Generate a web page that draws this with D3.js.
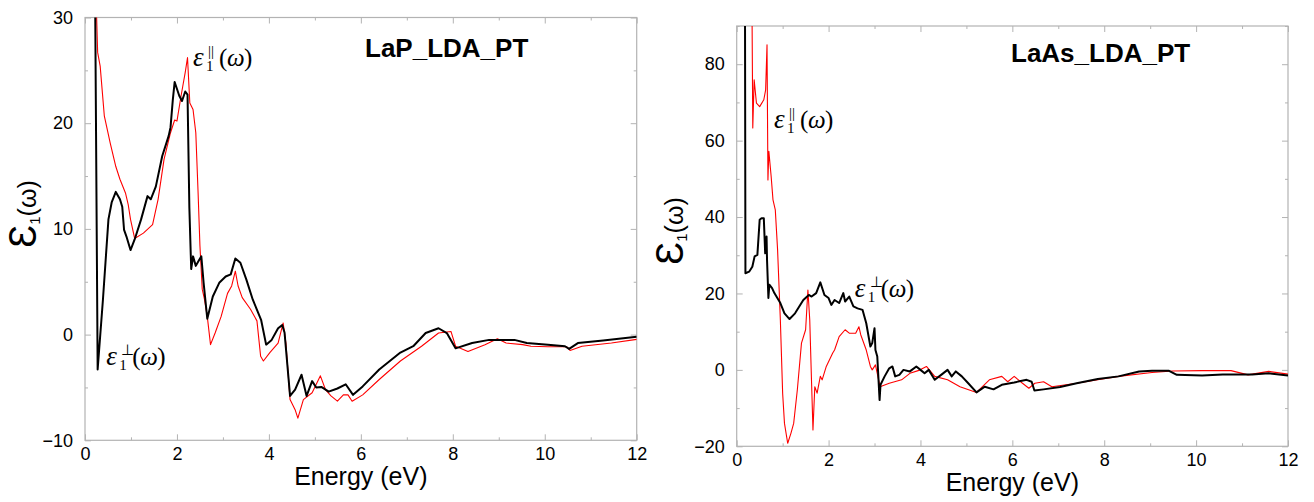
<!DOCTYPE html>
<html>
<head>
<meta charset="utf-8">
<script src="https://cdn.jsdelivr.net/npm/d3@7"></script>
<style>
  html, body { margin: 0; padding: 0; background: #fff; }
  svg { display: block; }
</style>
</head>
<body>
<svg id="chart" width="1314" height="502"></svg>
<script>
// ---------------- DATA ----------------
const panelTitles = ["LaP_LDA_PT", "LaAs_LDA_PT"];
const xTickValues = [0, 2, 4, 6, 8, 10, 12];
const lapYTicks = [-10, 0, 10, 20, 30];
const laasYTicks = [-20, 0, 20, 40, 60, 80];
const xLabel = "Energy (eV)";

// LaP, eps1 perpendicular (black)
const lapPerp = [
  [0.20, 45], [0.275, -3.3], [0.39, 3.3], [0.51, 10.9], [0.58, 12.5], [0.67, 13.5], [0.76, 12.8],
  [0.81, 12.1], [0.85, 9.9], [0.90, 9.3], [0.99, 8.0], [1.08, 9.0], [1.22, 10.9], [1.36, 13.1],
  [1.43, 12.8], [1.54, 14.0], [1.68, 16.9], [1.82, 18.8], [1.86, 19.6], [1.91, 22.2], [1.95, 23.9],
  [2.05, 22.6], [2.11, 22.1], [2.18, 23.0], [2.23, 22.7], [2.27, 12.0], [2.31, 6.2], [2.35, 7.4],
  [2.41, 6.5], [2.46, 6.9], [2.53, 7.4], [2.58, 4.9], [2.66, 1.5], [2.78, 3.6], [2.92, 4.9],
  [3.06, 5.5], [3.17, 5.7], [3.27, 7.2], [3.38, 6.8], [3.51, 5.2], [3.65, 3.3], [3.83, 1.4],
  [3.94, -0.95], [4.06, -0.5], [4.20, 0.6], [4.29, 0.9], [4.34, 0.2], [4.46, -5.8], [4.57, -5.2],
  [4.71, -3.8], [4.82, -5.8], [4.94, -4.4], [5.03, -5.0], [5.14, -4.95], [5.30, -5.4], [5.49, -5.1],
  [5.67, -4.7], [5.83, -5.7], [6.04, -4.9], [6.40, -3.3], [6.86, -1.7], [7.14, -1.1], [7.41, 0.15],
  [7.69, 0.6], [7.87, 0.15], [8.06, -1.3], [8.42, -0.8], [8.79, -0.5], [9.34, -0.5], [9.61, -0.8],
  [10.07, -0.95], [10.44, -1.1], [10.53, -1.35], [10.72, -0.8], [11.27, -0.55], [12.0, -0.2]
];
// LaP, eps1 parallel (red)
const lapPara = [
  [0.24, 32], [0.275, 26.7], [0.33, 25.4], [0.42, 20.7], [0.55, 18.1], [0.67, 15.9], [0.76, 14.7],
  [0.88, 13.4], [0.94, 12.3], [0.99, 10.9], [1.08, 9.1], [1.27, 9.6], [1.47, 10.4], [1.59, 12.8],
  [1.72, 16.6], [1.86, 19.1], [1.95, 20.3], [2.00, 20.2], [2.09, 22.6], [2.18, 24.8], [2.23, 26.2],
  [2.28, 21.9], [2.35, 21.3], [2.41, 19.1], [2.46, 13.4], [2.50, 8.4], [2.55, 4.3], [2.60, 3.3],
  [2.66, 1.7], [2.73, -0.95], [2.83, 0.15], [2.96, 1.7], [3.10, 3.9], [3.19, 4.6], [3.27, 6.0],
  [3.33, 4.6], [3.42, 3.5], [3.60, 2.4], [3.74, 1.3], [3.82, -2.05], [3.88, -2.5], [4.02, -1.7],
  [4.20, -0.8], [4.31, 1.1], [4.37, -0.8], [4.46, -6.15], [4.57, -7.1], [4.63, -7.9], [4.75, -6.15],
  [4.94, -5.5], [5.12, -3.9], [5.23, -5.2], [5.35, -5.8], [5.49, -6.3], [5.62, -5.7], [5.72, -5.7],
  [5.81, -6.3], [6.04, -5.7], [6.40, -4.25], [6.86, -2.5], [7.32, -1.1], [7.69, 0.15], [7.96, 0.3],
  [8.06, -1.1], [8.33, -1.6], [8.70, -0.95], [8.97, -0.4], [9.16, -0.8], [9.52, -0.95], [9.70, -1.1],
  [10.07, -1.15], [10.48, -1.15], [10.55, -1.5], [10.81, -1.1], [11.45, -0.8], [12.0, -0.45]
];
// LaAs, eps1 perpendicular (black)
const laasPerp = [
  [0.18, 100], [0.19, 25.3], [0.27, 25.7], [0.34, 27.0], [0.39, 29.7], [0.45, 30.1], [0.50, 39.3],
  [0.54, 39.7], [0.59, 39.7], [0.62, 30.5], [0.64, 31.4], [0.65, 34.9], [0.66, 28.8], [0.69, 18.8],
  [0.71, 22.3], [0.77, 21.4], [0.82, 20.1], [0.95, 17.5], [1.04, 14.8], [1.15, 13.3], [1.27, 14.8],
  [1.45, 18.3], [1.57, 19.6], [1.63, 19.2], [1.73, 20.1], [1.82, 22.9], [1.91, 19.6], [2.00, 18.8],
  [2.06, 17.0], [2.13, 18.3], [2.23, 17.5], [2.32, 20.1], [2.36, 17.9], [2.45, 19.2], [2.54, 16.6],
  [2.63, 16.1], [2.74, 15.7], [2.82, 12.2], [2.91, 6.1], [2.95, 7.0], [3.00, 10.9], [3.02, 5.2],
  [3.06, 3.5], [3.11, -7.9], [3.13, -3.9], [3.22, -1.7], [3.32, 0.4], [3.39, 0.9], [3.45, -1.7],
  [3.54, -1.3], [3.63, 0.0], [3.77, -0.4], [3.91, 0.9], [4.00, 0.0], [4.09, -0.9], [4.18, 0.0],
  [4.31, -2.6], [4.45, -1.3], [4.59, 0.0], [4.68, -1.7], [4.77, -0.4], [4.90, -1.7], [5.04, -3.5],
  [5.22, -5.9], [5.40, -4.4], [5.59, -5.1], [5.77, -3.9], [6.04, -3.3], [6.31, -2.6], [6.42, -3.1],
  [6.48, -5.4], [6.68, -5.1], [7.04, -4.5], [7.40, -3.5], [7.86, -2.4], [8.31, -1.7], [8.76, -0.4],
  [9.04, -0.2], [9.40, -0.2], [9.58, -1.3], [10.13, -1.5], [10.58, -1.2], [11.22, -1.2],
  [11.58, -0.9], [12.0, -1.5]
];
// LaAs, eps1 parallel (red)
const laasPara = [
  [0.33, 100], [0.35, 63.3], [0.38, 75.9], [0.43, 69.8], [0.50, 68.9], [0.59, 70.7], [0.63, 73.3],
  [0.66, 85.1], [0.68, 49.7], [0.70, 57.2], [0.75, 50.6], [0.79, 44.5], [0.84, 41.9], [0.89, 31.4],
  [0.95, 13.1], [1.00, -6.1], [1.04, -14.0], [1.11, -19.2], [1.18, -16.6], [1.24, -14.0], [1.32, -5.2],
  [1.41, 7.0], [1.50, 10.5], [1.55, 20.9], [1.59, 13.1], [1.63, -3.5], [1.66, -15.7], [1.70, -4.4],
  [1.75, -6.1], [1.82, -1.7], [1.86, -2.6], [1.95, 0.9], [2.09, 4.4], [2.13, 5.2], [2.23, 8.7],
  [2.36, 10.5], [2.45, 9.6], [2.59, 9.6], [2.66, 11.3], [2.70, 9.2], [2.82, 5.2], [2.91, 0.9],
  [2.95, 0.0], [3.02, 1.3], [3.12, -4.4], [3.32, -3.5], [3.59, -2.6], [3.77, -0.9], [3.95, -0.2],
  [4.13, 0.9], [4.31, -1.7], [4.59, -2.6], [4.86, -4.4], [5.22, -5.9], [5.50, -2.6], [5.77, -1.7],
  [5.90, -3.1], [6.04, -1.7], [6.22, -3.5], [6.36, -4.8], [6.49, -3.5], [6.68, -3.1], [6.86, -4.4],
  [7.40, -3.5], [7.86, -2.6], [8.31, -1.7], [9.04, -0.7], [9.49, -0.3], [10.13, -0.2], [10.76, -0.2],
  [11.13, -1.3], [11.58, -0.4], [12.0, -1.1]
];
// annotation anchors [energy, eps1]
const lapParaLabelAt = [2.35, 25.4];
const lapPerpLabelAt = [0.46, -2.9];
const laasParaLabelAt = [0.81, 63.2];
const laasPerpLabelAt = [2.57, 19.0];

// ---------------- DRAWING ----------------
const svg = d3.select("#chart");
const frameColor = "#b3b3b3";

function drawPanel(o) {
  const x = d3.scaleLinear().domain([0, 12]).range([o.left, o.right]);
  const y = d3.scaleLinear().domain(o.yDomain).range([o.bottom, o.top]);
  const g = svg.append("g");

  const clipId = "clip" + o.id;
  g.append("clipPath").attr("id", clipId).append("rect")
    .attr("x", o.left).attr("y", o.top)
    .attr("width", o.right - o.left).attr("height", o.bottom - o.top);

  const styleAxis = sel => {
    sel.select(".domain").remove();
    sel.selectAll(".tick line").attr("stroke", frameColor);
    sel.selectAll(".tick text").attr("fill", "#000")
      .attr("font-family", "Liberation Sans, Arial, Helvetica, sans-serif")
      .attr("font-size", 18);
  };
  const minorX = d3.range(1, 12, 2);
  const minorY = o.minorY;

  g.append("g").attr("transform", `translate(0,${o.bottom})`)
    .call(d3.axisBottom(x).tickValues(xTickValues).tickSize(-6).tickPadding(7).tickFormat(d3.format("d")))
    .call(styleAxis);
  g.append("g").attr("transform", `translate(0,${o.bottom})`)
    .call(d3.axisBottom(x).tickValues(minorX).tickSize(-3).tickFormat(""))
    .call(styleAxis);
  g.append("g").attr("transform", `translate(0,${o.top})`)
    .call(d3.axisTop(x).tickValues(xTickValues).tickSize(-6).tickFormat(""))
    .call(styleAxis);
  g.append("g").attr("transform", `translate(0,${o.top})`)
    .call(d3.axisTop(x).tickValues(minorX).tickSize(-3).tickFormat(""))
    .call(styleAxis);
  g.append("g").attr("transform", `translate(${o.left},0)`)
    .call(d3.axisLeft(y).tickValues(o.yTicks).tickSize(-6).tickPadding(12).tickFormat(d3.format("d")))
    .call(styleAxis);
  g.append("g").attr("transform", `translate(${o.left},0)`)
    .call(d3.axisLeft(y).tickValues(minorY).tickSize(-3).tickFormat(""))
    .call(styleAxis);
  g.append("g").attr("transform", `translate(${o.right},0)`)
    .call(d3.axisRight(y).tickValues(o.yTicks).tickSize(-6).tickFormat(""))
    .call(styleAxis);
  g.append("g").attr("transform", `translate(${o.right},0)`)
    .call(d3.axisRight(y).tickValues(minorY).tickSize(-3).tickFormat(""))
    .call(styleAxis);

  g.append("rect").attr("x", o.left).attr("y", o.top)
    .attr("width", o.right - o.left).attr("height", o.bottom - o.top)
    .attr("fill", "none").attr("stroke", frameColor).attr("stroke-width", 1.2);

  const line = d3.line().x(d => x(d[0])).y(d => y(d[1]));
  const lines = g.append("g").attr("clip-path", `url(#${clipId})`);
  lines.append("path").datum(o.para).attr("d", line)
    .attr("fill", "none").attr("stroke", "#ff0000").attr("stroke-width", 1.1)
    .attr("stroke-linejoin", "round");
  lines.append("path").datum(o.perp).attr("d", line)
    .attr("fill", "none").attr("stroke", "#000").attr("stroke-width", 2)
    .attr("stroke-linejoin", "round");

  g.append("text").attr("x", o.titleX).attr("y", o.titleY)
    .attr("font-family", "Liberation Sans, Arial, Helvetica, sans-serif")
    .attr("font-weight", "bold").attr("font-size", 26).attr("fill", "#000")
    .text(o.title);

  g.append("text").attr("x", (o.left + o.right) / 2).attr("y", o.xLabelY)
    .attr("text-anchor", "middle")
    .attr("font-family", "Liberation Sans, Arial, Helvetica, sans-serif")
    .attr("font-size", 25).attr("fill", "#000")
    .text(xLabel);

  const yl = g.append("text")
    .attr("transform", `translate(${o.yLabelX},${o.yLabelY}) rotate(-90)`)
    .attr("text-anchor", "middle")
    .attr("font-family", "Liberation Sans, Arial, Helvetica, sans-serif")
    .attr("fill", "#000");
  yl.append("tspan").attr("font-size", 38).text("Ɛ");
  yl.append("tspan").attr("font-size", 15).attr("dy", 4).text("1");
  yl.append("tspan").attr("font-size", 25).attr("dy", -4).text("(ω)");

  function annot(at, supText) {
    const px = x(at[0]), py = y(at[1]);
    const a = g.append("g").attr("transform", `translate(${px},${py})`)
      .attr("font-family", "Liberation Serif, Times New Roman, serif").attr("fill", "#000");
    a.append("text").attr("x", 0).attr("y", 0).attr("font-size", 27).attr("font-style", "italic").text("ε");
    a.append("text").attr("x", 13).attr("y", 5).attr("font-size", 15).text("1");
    a.append("text").attr("x", 15).attr("y", -10).attr("font-size", 15).text(supText);
    a.append("text").attr("x", 26).attr("y", 0).attr("font-size", 25).text("(");
    a.append("text").attr("x", 34).attr("y", 0).attr("font-size", 25).attr("font-style", "italic").text("ω");
    a.append("text").attr("x", 51).attr("y", 0).attr("font-size", 25).text(")");
  }
  annot(o.paraLabel, "||");
  annot(o.perpLabel, "⊥");
}

drawPanel({
  id: 1, left: 85, right: 636.7, top: 17.5, bottom: 440.3,
  yDomain: [-10, 30], yTicks: lapYTicks, minorY: [-5, 5, 15, 25],
  perp: lapPerp, para: lapPara,
  title: panelTitles[0], titleX: 365, titleY: 57,
  xLabelY: 485, yLabelX: 36, yLabelY: 214,
  paraLabel: lapParaLabelAt, perpLabel: lapPerpLabelAt
});
drawPanel({
  id: 2, left: 736.7, right: 1288, top: 26, bottom: 446.3,
  yDomain: [-20, 90], yTicks: laasYTicks, minorY: [-10, 10, 30, 50, 70, 90],
  perp: laasPerp, para: laasPara,
  title: panelTitles[1], titleX: 1011, titleY: 62,
  xLabelY: 491, yLabelX: 683, yLabelY: 231,
  paraLabel: laasParaLabelAt, perpLabel: laasPerpLabelAt
});
</script>
</body>
</html>
